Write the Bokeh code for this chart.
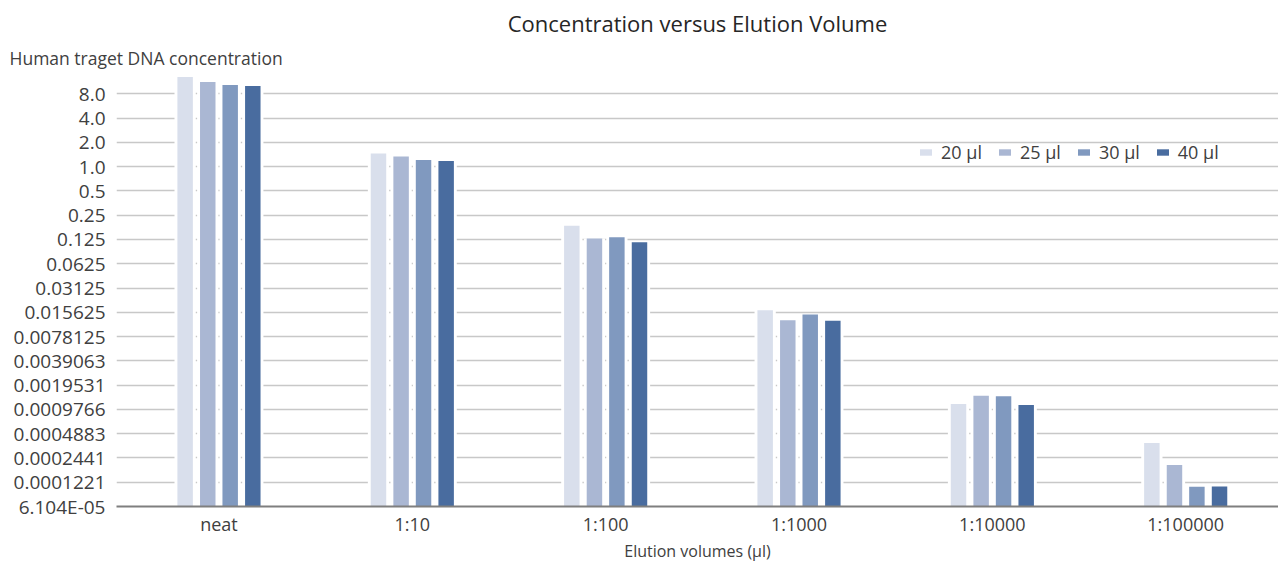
from bokeh.plotting import figure
from bokeh.models import ColumnDataSource, Range1d, FixedTicker, Title, Legend, LegendItem
from bokeh.embed import file_html
from bokeh.resources import INLINE

categories = ["neat", "1:10", "1:100", "1:1000", "1:10000", "1:100000"]
series = ["20 µl", "25 µl", "30 µl", "40 µl"]
vol_20 = [12.9, 1.45, 0.185, 0.0165, 0.00114, 0.000373]
vol_25 = [11.2, 1.33, 0.128, 0.0124, 0.00144, 0.000199]
vol_30 = [10.3, 1.21, 0.133, 0.0147, 0.00142, 0.000107]
vol_40 = [9.96, 1.17, 0.115, 0.0123, 0.00111, 0.000108]
y_ticks = [6.103515625e-05, 0.0001220703125, 0.000244140625, 0.00048828125,
           0.0009765625, 0.001953125, 0.00390625, 0.0078125, 0.015625,
           0.03125, 0.0625, 0.125, 0.25, 0.5, 1.0, 2.0, 4.0, 8.0]
y_tick_labels = ["6.104E-05", "0.0001221", "0.0002441", "0.0004883", "0.0009766",
                 "0.0019531", "0.0039063", "0.0078125", "0.015625", "0.03125",
                 "0.0625", "0.125", "0.25", "0.5", "1.0", "2.0", "4.0", "8.0"]
colors = ["#D9DFEC", "#AAB7D3", "#8099BF", "#496C9F"]
offsets = [-0.175, -0.058, 0.058, 0.175]
values = [vol_20, vol_25, vol_30, vol_40]

FONT = "Open Sans"
TXT = "#404040"
y_bottom = y_ticks[0]

p = figure(width=1278, height=564, y_axis_type="log",
           x_range=Range1d(-0.03, 5.98), y_range=Range1d(y_bottom, 16.0),
           output_backend="svg", toolbar_location=None,
           min_border_left=116, min_border_right=0, min_border_top=68,
           min_border_bottom=57)
p.outline_line_color = None
p.xgrid.grid_line_color = None
p.ygrid.grid_line_color = "#C8C8C8"
p.ygrid.grid_line_width = 1.5

legend_items = []
for name, vals, off, col in zip(series, values, offsets, colors):
    src = ColumnDataSource(dict(x=[i + 0.5 + off for i in range(len(categories))],
                                top=vals, bottom=[y_bottom] * len(vals)))
    p.vbar(x="x", top="top", bottom="bottom", width=0.11, source=src,
           fill_color="white", line_color=None)
    r = p.vbar(x="x", top="top", bottom="bottom", width=0.08, source=src,
               fill_color=col, line_color=None)
    legend_items.append(LegendItem(label=name, renderers=[r]))

legend = Legend(items=legend_items, orientation="horizontal", location=(802, 342),
                background_fill_alpha=0, border_line_color=None, padding=0, margin=0,
                glyph_width=15, glyph_height=8, label_standoff=8, spacing=15,
                label_text_font=FONT, label_text_font_size="18px",
                label_text_color=TXT, label_height=20)
p.add_layout(legend, "center")

p.xaxis.ticker = FixedTicker(ticks=[i + 0.5 for i in range(len(categories))])
p.xaxis.major_label_overrides = {i + 0.5: c for i, c in enumerate(categories)}
p.xaxis.axis_line_color = "#7F7F7F"
p.xaxis.axis_line_width = 2
p.xaxis.major_tick_line_color = None
p.xaxis.major_tick_out = 0
p.xaxis.major_tick_in = 0
p.xaxis.minor_tick_line_color = None
p.xaxis.major_label_text_font = FONT
p.xaxis.major_label_text_font_size = "18px"
p.xaxis.major_label_text_color = TXT
p.xaxis.major_label_standoff = 5
p.xaxis.axis_label = "Elution volumes (µl)"
p.xaxis.axis_label_text_font = FONT
p.xaxis.axis_label_text_font_size = "16px"
p.xaxis.axis_label_text_font_style = "normal"
p.xaxis.axis_label_text_color = TXT
p.xaxis.axis_label_standoff = 1

p.yaxis.ticker = FixedTicker(ticks=y_ticks)
p.yaxis.major_label_overrides = {t: l for t, l in zip(y_ticks, y_tick_labels)}
p.yaxis.axis_line_color = None
p.yaxis.major_tick_line_color = None
p.yaxis.major_tick_out = 0
p.yaxis.major_tick_in = 0
p.yaxis.minor_tick_line_color = None
p.yaxis.major_label_text_font = FONT
p.yaxis.major_label_text_font_size = "19px"
p.yaxis.major_label_text_color = TXT
p.yaxis.major_label_standoff = 11

p.add_layout(Title(text="Human traget DNA concentration", align="left", offset=-107,
                   text_font=FONT, text_font_size="17.5px", text_font_style="normal",
                   text_color=TXT, standoff=0), "above")
p.add_layout(Title(text="Concentration versus Elution Volume", align="center",
                   text_font=FONT, text_font_size="22px", text_font_style="normal",
                   text_color="#262626", standoff=11), "above")

open("out.html", "w").write(file_html(p, INLINE))
